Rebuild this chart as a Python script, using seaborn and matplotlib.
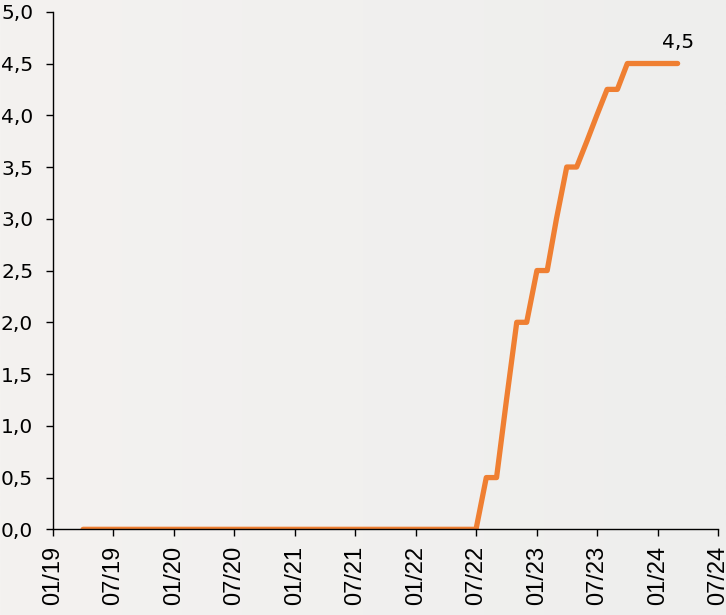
import matplotlib
matplotlib.use("Agg")
import matplotlib.dates as mdates
import matplotlib.pyplot as plt
import matplotlib.ticker as mticker
from matplotlib.colors import LinearSegmentedColormap
import numpy as np
import pandas as pd
import seaborn as sns

# monthly observations, April 2019 .. March 2024
MONTH_START = "2019-04-01"
MONTH_END = "2024-03-01"
RATE = [
    0.0, 0.0, 0.0, 0.0, 0.0, 0.0, 0.0, 0.0, 0.0,                     # 2019 Apr-Dec
    0.0, 0.0, 0.0, 0.0, 0.0, 0.0, 0.0, 0.0, 0.0, 0.0, 0.0, 0.0,      # 2020
    0.0, 0.0, 0.0, 0.0, 0.0, 0.0, 0.0, 0.0, 0.0, 0.0, 0.0, 0.0,      # 2021
    0.0, 0.0, 0.0, 0.0, 0.0, 0.0, 0.0, 0.5, 0.5, 1.25, 2.0, 2.0,     # 2022
    2.5, 2.5, 3.0, 3.5, 3.5, 3.75, 4.0, 4.25, 4.25, 4.5, 4.5, 4.5,   # 2023
    4.5, 4.5, 4.5,                                                   # 2024 Jan-Mar
]
Y_TICKS = [0.0, 0.5, 1.0, 1.5, 2.0, 2.5, 3.0, 3.5, 4.0, 4.5, 5.0]
X_RANGE = ("2019-01-01", "2024-07-01")

LINE_COLOR = "#ef7f32"
BG_LEFT = "#f4f2f0"
BG_RIGHT = "#eeeeed"

sns.set_style("ticks")
plt.rcParams["font.family"] = ["DejaVu Sans"]

df = pd.DataFrame({
    "date": pd.date_range(MONTH_START, MONTH_END, freq="MS"),
    "rate": RATE,
})

fig = plt.figure(figsize=(7.26, 6.15), dpi=100, facecolor=BG_RIGHT)

# soft left-to-right background shading
bg = fig.add_axes([0, 0, 1, 1], zorder=-10)
bg.imshow(np.linspace(0, 1, 256)[None, :], aspect="auto", extent=(0, 1, 0, 1),
          cmap=LinearSegmentedColormap.from_list("bg", [BG_LEFT, BG_RIGHT]))
bg.set_axis_off()

ax = fig.add_axes([0.0734, 0.1393, 0.9156, 0.8416])
ax.patch.set_alpha(0)

sns.lineplot(data=df, x="date", y="rate", color=LINE_COLOR, linewidth=3.8, ax=ax)
for ln in ax.get_lines():
    ln.set_solid_capstyle("round")
    ln.set_solid_joinstyle("round")

# end-of-series label
last = df.iloc[-1]
ax.annotate(
    f"{last['rate']:.1f}".replace(".", ","),
    xy=(last["date"], last["rate"]),
    xytext=(0, 11),
    textcoords="offset points",
    ha="center",
    va="baseline",
    fontsize=14.5,
    color="black",
)

# axes
ax.set_xlim(pd.Timestamp(X_RANGE[0]), pd.Timestamp(X_RANGE[1]))
ax.set_ylim(Y_TICKS[0], Y_TICKS[-1])
ax.set_yticks(Y_TICKS)
ax.yaxis.set_major_formatter(mticker.FuncFormatter(lambda v, _: f"{v:.1f}".replace(".", ",")))
ax.xaxis.set_major_locator(mdates.MonthLocator(bymonth=[1, 7], bymonthday=1))
ax.xaxis.set_major_formatter(mdates.DateFormatter("%m/%y"))

ax.set_xlabel("")
ax.set_ylabel("")
sns.despine(ax=ax)
for side in ("left", "bottom"):
    ax.spines[side].set_color("black")
    ax.spines[side].set_linewidth(1.0)

ax.tick_params(axis="y", direction="out", length=5, width=1.0, color="black",
               labelsize=14.5, pad=9.5, labelcolor="black")
ax.tick_params(axis="x", direction="out", length=5, width=1.0, color="black",
               labelsize=17, pad=7, labelcolor="black", labelrotation=90)
for lbl in ax.get_xticklabels():
    lbl.set_family(["Liberation Sans", "DejaVu Sans"])

fig.savefig("out.png", dpi=100)
